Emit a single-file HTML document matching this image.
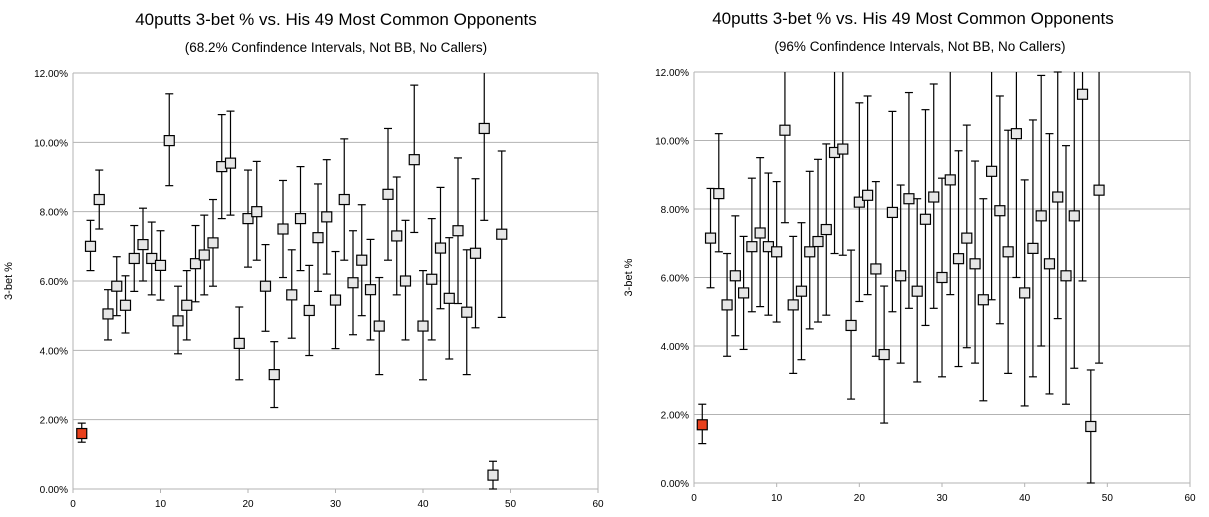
<!DOCTYPE html>
<html><head><meta charset="utf-8"><style>
html,body{margin:0;padding:0;background:#fff;width:1209px;height:517px;overflow:hidden}
svg{display:block}
text{font-family:"Liberation Sans",sans-serif;fill:#000}
</style></head><body>
<svg id="s" width="1209" height="517" xmlns="http://www.w3.org/2000/svg">
<text x="336" y="25" font-size="17" text-anchor="middle">40putts 3-bet % vs. His 49 Most Common Opponents</text>
<text x="336" y="52" font-size="13.5" text-anchor="middle">(68.2% Confindence Intervals, Not BB, No Callers)</text>
<text x="913" y="24" font-size="17" text-anchor="middle">40putts 3-bet % vs. His 49 Most Common Opponents</text>
<text x="920" y="51" font-size="13.5" text-anchor="middle">(96% Confindence Intervals, Not BB, No Callers)</text>
</svg>
<script>
const L=[[1.6,1.35,1.9],[7.0,6.3,7.75],[8.35,7.5,9.2],[5.05,4.3,5.75],[5.85,5.0,6.7],[5.3,4.5,6.15],[6.65,5.7,7.6],[7.05,6.0,8.1],[6.65,5.6,7.7],[6.45,5.45,7.45],[10.05,8.75,11.4],[4.85,3.9,5.85],[5.3,4.3,6.3],[6.5,5.4,7.6],[6.75,5.6,7.9],[7.1,5.85,8.35],[9.3,7.8,10.8],[9.4,7.9,10.9],[4.2,3.15,5.25],[7.8,6.4,9.2],[8.0,6.6,9.45],[5.85,4.55,7.05],[3.3,2.35,4.25],[7.5,6.1,8.9],[5.6,4.35,6.9],[7.8,6.3,9.3],[5.15,3.85,6.45],[7.25,5.7,8.8],[7.85,6.2,9.5],[5.45,4.05,6.85],[8.35,6.6,10.1],[5.95,4.45,7.45],[6.6,5.0,8.2],[5.75,4.3,7.2],[4.7,3.3,6.1],[8.5,6.6,10.4],[7.3,5.6,9.0],[6.0,4.3,7.75],[9.5,7.4,11.65],[4.7,3.15,6.3],[6.05,4.3,7.8],[6.95,5.2,8.7],[5.5,3.75,7.25],[7.45,5.35,9.55],[5.1,3.3,6.9],[6.8,4.65,8.95],[10.4,7.75,13],[0.4,0,0.8],[7.35,4.95,9.75]];
const R=[[1.7,1.15,2.3],[7.15,5.7,8.6],[8.45,6.75,10.2],[5.2,3.7,6.7],[6.05,4.3,7.8],[5.55,3.9,7.2],[6.9,5.0,8.9],[7.3,5.15,9.5],[6.9,4.9,9.05],[6.75,4.7,8.8],[10.3,7.6,13],[5.2,3.2,7.2],[5.6,3.6,7.6],[6.75,4.5,9.1],[7.05,4.7,9.45],[7.4,4.9,9.9],[9.65,6.7,12.6],[9.75,6.65,12.85],[4.6,2.45,6.8],[8.2,5.3,11.1],[8.4,5.5,11.3],[6.25,3.7,8.8],[3.75,1.75,5.75],[7.9,5.0,10.85],[6.05,3.5,8.7],[8.3,5.1,11.4],[5.6,2.95,8.3],[7.7,4.6,10.9],[8.35,5.1,11.65],[6.0,3.1,8.9],[8.85,5.5,12.3],[6.55,3.4,9.7],[7.15,3.95,10.45],[6.4,3.5,9.4],[5.35,2.4,8.3],[9.1,5.35,12.85],[7.95,4.65,11.3],[6.75,3.2,10.3],[10.2,6.0,14],[5.55,2.25,8.85],[6.85,3.1,10.6],[7.8,4.0,11.9],[6.4,2.6,10.2],[8.35,4.8,12],[6.05,2.3,9.85],[7.8,3.35,12.1],[11.35,5.9,14],[1.65,0,3.3],[8.55,3.5,13.6]];
const s=document.getElementById('s');let h='';
function chart(D,x0,x1,y0,y1,lx,tx){
 const X=v=>x0+(x1-x0)*v/60,Y=v=>y0+(y1-y0)*v/12;
 for(let i=0;i<=6;i++){const y=Y(i*2);
  h+=`<line x1="${x0}" x2="${x1}" y1="${y}" y2="${y}" stroke="#b3b3b3" stroke-width="1"/>`;
  h+=`<text x="${x0-5}" y="${y+4}" font-size="10" text-anchor="end">${(i*2).toFixed(2)}%</text>`;}
 h+=`<line x1="${x0}" x2="${x0}" y1="${y1}" y2="${y0}" stroke="#b3b3b3"/><line x1="${x1}" x2="${x1}" y1="${y1}" y2="${y0}" stroke="#b3b3b3"/>`;
 for(let i=0;i<=6;i++){const x=X(i*10);h+=`<line x1="${x}" x2="${x}" y1="${y0}" y2="${y0+4}" stroke="#b3b3b3"/><text x="${x}" y="${y0+18}" font-size="10" text-anchor="middle">${i*10}</text>`;}
 h+=`<text transform="translate(${lx},${(y0+y1)/2}) rotate(-90)" font-size="11" text-anchor="middle">3-bet %</text>`;
 D.forEach((d,i)=>{const x=X(i+1),yt=Math.max(Y(Math.min(d[2],12)),y1),yb=Y(d[1]);
  h+=`<line x1="${x}" x2="${x}" y1="${yt}" y2="${yb}" stroke="#000" stroke-width="1.2"/>`;
  if(d[2]<=12)h+=`<line x1="${x-4}" x2="${x+4}" y1="${yt}" y2="${yt}" stroke="#000" stroke-width="1.2"/>`;
  h+=`<line x1="${x-4}" x2="${x+4}" y1="${yb}" y2="${yb}" stroke="#000" stroke-width="1.2"/>`;
  const y=Y(d[0]);h+=`<rect x="${x-5}" y="${y-5}" width="10" height="10" fill="${i==0?'#e8401c':'#e6e6e6'}" stroke="#000" stroke-width="1.2"/>`;});
}
chart(L,73,598,489,73,12,0);
chart(R,694,1190,483,72,632,0);
s.insertAdjacentHTML('beforeend',h);
</script>
</body></html>
